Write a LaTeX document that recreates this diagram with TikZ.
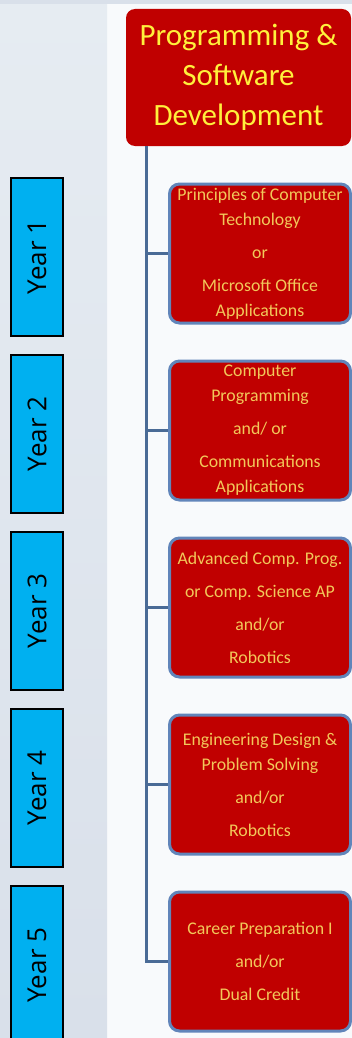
\documentclass[tikz,border=0pt]{standalone}
\usepackage{fontspec}
\setmainfont{Carlito}
\newfontfamily\yearfont{Open Sans}
\usetikzlibrary{positioning}
\definecolor{boxred}{HTML}{C00000}
\definecolor{titletext}{HTML}{FFF03C}
\definecolor{coursetext}{HTML}{F2C85A}
\definecolor{trunkblue}{HTML}{4A6B96}
\definecolor{ringblue}{HTML}{6185BA}
\definecolor{yearcyan}{HTML}{00B0F0}
\definecolor{paneltop}{HTML}{E6ECF2}
\definecolor{panelbottom}{HTML}{D9E0EA}
\definecolor{pagewhite}{HTML}{F8FAFC}
\tikzset{title node/.style={rectangle, rounded corners=9pt, fill=boxred, text=titletext, minimum width=225pt, minimum height=137pt, align=center, font=\fontsize{31}{40}\selectfont},
course node/.style={rectangle, rounded corners=10pt, draw=ringblue, line width=3pt, fill=boxred, text=coursetext, minimum width=181pt, minimum height=139pt, align=center, inner sep=1pt, font=\fontsize{17.8}{25}\selectfont},
year node/.style={rectangle, draw=black, line width=1.5pt, fill=yearcyan, minimum width=52pt, minimum height=158pt, inner sep=0pt, font=\yearfont\fontsize{26}{30}\selectfont},
trunk/.style={draw=trunkblue, line width=3pt},}

\begin{document}
\begin{tikzpicture}[x=1pt, y=-1pt]
        \useasboundingbox (0,0) rectangle (352,1038);
        % Background
        \fill[pagewhite] (0,0) rectangle (352,1038);
        \fill[top color=paneltop, bottom color=panelbottom] (0,0) rectangle (107,1038);
        \fill[panelbottom] (0,0) rectangle (352,4);
        % Nodes
        \node[title node] (title) at (238.5,77.5) {Programming \&\\ Software\\ Development};
        \node[course node] (c1) at (260,253.5) {Principles of Computer\\ Technology\\[8pt] or\\[8pt] Microsoft Office\\ Applications};
        \node[course node] [below = 35pt of c1] (c2) {Computer\\ Programming\\[8pt] and/ or\\[8pt] Communications\\ Applications};
        \node[course node] [below = 35pt of c2] (c3) {Advanced Comp. Prog.\\[8pt] or Comp. Science AP\\[8pt] and/or\\[8pt] Robotics};
        \node[course node] [below = 35pt of c3] (c4) {Engineering Design \&\\ Problem Solving\\[8pt] and/or\\[8pt] Robotics};
        \node[course node] [below = 35pt of c4] (c5) {Career Preparation I\\[8pt] and/or\\[8pt] Dual Credit};
        \node[year node] (y1) at (37,257) {\rotatebox{90}{Year 1}};
        \node[year node] [below = 17.5pt of y1] (y2) {\rotatebox{90}{Year 2}};
        \node[year node] [below = 17.5pt of y2] (y3) {\rotatebox{90}{Year 3}};
        \node[year node] [below = 17.5pt of y3] (y4) {\rotatebox{90}{Year 4}};
        \node[year node] [below = 17.5pt of y4] (y5) {\rotatebox{90}{Year 5}};
        % Paths
        \coordinate (top) at (146,146);
        \draw[trunk] (top) |- (c5.west);
        \foreach \i in {1,...,4}
            \draw[trunk] (c\i.west) -- (c\i.west -| top);
\end{tikzpicture}
\end{document}
